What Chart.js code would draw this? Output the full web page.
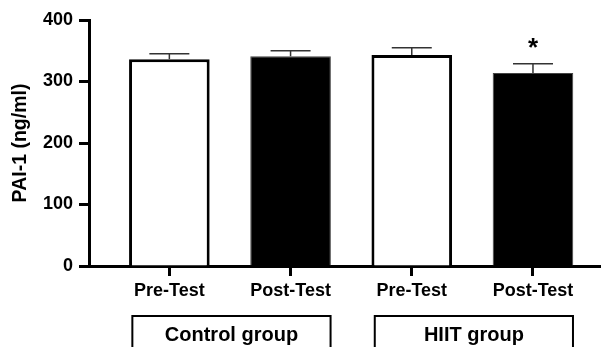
<!DOCTYPE html>
<html>
<head>
<meta charset="utf-8">
<script src="https://cdn.jsdelivr.net/npm/chart.js@4"></script>
<style>
  html, body { margin: 0; padding: 0; background: #fff; }
</style>
</head>
<body>
<canvas id="myChart" width="602" height="347"></canvas>
<script>
const categories = ["Pre-Test", "Post-Test", "Pre-Test", "Post-Test"];
const meanValues = [336, 341, 343, 314];
const semValues = [9, 9, 12, 15];
const sigMarks = ["", "", "", "*"];
const groupLabels = ["Control group", "HIIT group"];
const groupFirst = [0, 2];
const groupLast = [1, 3];
const yTicks = [0, 100, 200, 300, 400];

const fontFamily = "'Liberation Sans', Arial, sans-serif";
const ctx = document.getElementById("myChart").getContext("2d");

// upper error bars + significance star
const errorBars = {
  id: "errorBars",
  afterDatasetsDraw(chart) {
    const { ctx, scales: { x, y } } = chart;
    ctx.save();
    ctx.strokeStyle = "#333";
    ctx.lineWidth = 1.5;
    meanValues.forEach((m, i) => {
      const cx = x.getPixelForValue(i);
      const yBase = y.getPixelForValue(m);
      const yTop = y.getPixelForValue(m + semValues[i]);
      ctx.beginPath();
      ctx.moveTo(cx, yBase);
      ctx.lineTo(cx, yTop);
      ctx.moveTo(cx - 20, yTop);
      ctx.lineTo(cx + 20, yTop);
      ctx.stroke();
      if (sigMarks[i]) {
        ctx.fillStyle = "#000";
        ctx.font = "bold 26px " + fontFamily;
        ctx.textAlign = "center";
        ctx.textBaseline = "alphabetic";
        ctx.fillText(sigMarks[i], cx, yTop - 8);
      }
    });
    ctx.restore();
  },
};

// boxed group names under the x axis
const groupBoxes = {
  id: "groupBoxes",
  afterDraw(chart) {
    const { ctx, chartArea, scales: { x } } = chart;
    const boxTop = chartArea.bottom + 50;
    ctx.save();
    ctx.strokeStyle = "#000";
    ctx.lineWidth = 2;
    ctx.fillStyle = "#000";
    ctx.font = "bold 20px " + fontFamily;
    ctx.textAlign = "center";
    ctx.textBaseline = "alphabetic";
    groupLabels.forEach((label, g) => {
      const left = x.getPixelForValue(groupFirst[g]) - 37;
      const right = x.getPixelForValue(groupLast[g]) + 40;
      ctx.strokeRect(left, boxTop, right - left, 60);
      ctx.fillText(label, (left + right) / 2, boxTop + 25);
    });
    ctx.restore();
  },
};

new Chart(ctx, {
  type: "bar",
  data: {
    datasets: [
      {
        data: meanValues.map((v, i) => ({ x: i, y: v })),
        backgroundColor: categories.map((c) => (c === "Pre-Test" ? "#fff" : "#000")),
        borderColor: categories.map((c) => (c === "Pre-Test" ? "#000" : "#444")),
        borderWidth: categories.map((c) => (c === "Pre-Test" ? 3 : 1)),
        categoryPercentage: 1,
        barPercentage: 0.665,
      },
    ],
  },
  options: {
    responsive: false,
    animation: false,
    devicePixelRatio: 1,
    layout: { padding: { top: 20, right: 2, left: 0, bottom: 0 } },
    plugins: { legend: { display: false }, tooltip: { enabled: false } },
    scales: {
      x: {
        type: "linear",
        min: -0.663,
        max: 3.553,
        offset: false,
        afterBuildTicks: (axis) => {
          axis.ticks = categories.map((c, i) => ({ value: i }));
        },
        ticks: {
          callback: (v) => categories[v],
          color: "#000",
          font: { family: fontFamily, size: 18, weight: "bold" },
          padding: 4,
          maxRotation: 0,
          autoSkip: false,
        },
        grid: {
          offset: false,
          drawOnChartArea: false,
          drawTicks: true,
          tickLength: 10,
          tickWidth: 3,
          tickColor: "#000",
        },
        border: { display: true, width: 3, color: "#000" },
        afterFit: (axis) => {
          axis.height = 81;
        },
      },
      y: {
        min: 0,
        max: 400,
        afterBuildTicks: (axis) => {
          axis.ticks = yTicks.map((v) => ({ value: v }));
        },
        ticks: {
          color: "#000",
          font: { family: fontFamily, size: 18, weight: "bold" },
          padding: 6,
        },
        grid: {
          drawOnChartArea: false,
          drawTicks: true,
          tickLength: 10,
          tickWidth: 3,
          tickColor: "#000",
        },
        border: { display: true, width: 3, color: "#000" },
        title: {
          display: true,
          text: "PAI-1 (ng/ml)",
          color: "#000",
          font: { family: fontFamily, size: 19.5, weight: "bold" },
          padding: { top: 9, bottom: 0 },
        },
        afterFit: (axis) => {
          axis.width = 89;
        },
      },
    },
  },
  plugins: [errorBars, groupBoxes],
});
</script>
</body>
</html>
